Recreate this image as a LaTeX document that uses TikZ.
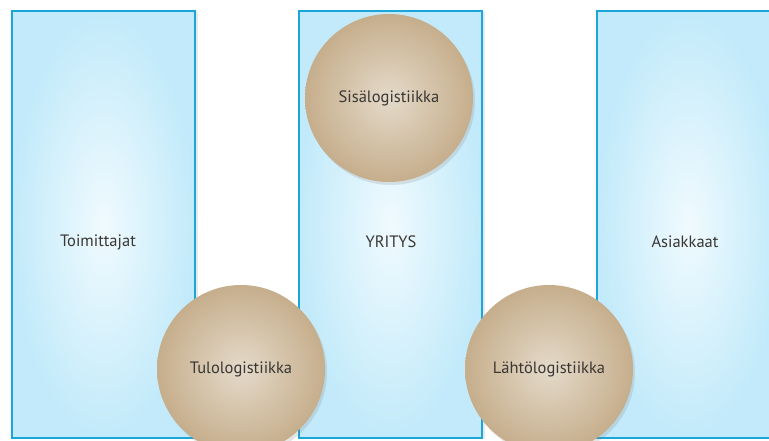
\documentclass[tikz,border=0pt]{standalone}
\usepackage{fontspec}
\setmainfont{PT Sans}
\usetikzlibrary{shadows}
\definecolor{boxedge}{HTML}{1BA6D9}
\definecolor{boxout}{HTML}{C2EAFA}
\definecolor{boxin}{HTML}{F0FAFE}
\definecolor{ballout}{HTML}{C6AE8C}
\definecolor{ballin}{HTML}{E4DACA}
\definecolor{txt}{HTML}{3A3632}
\tikzset{
  column/.style={draw=boxedge, line width=2.5pt, inner color=boxin, outer color=boxout,
    minimum width=183pt, minimum height=427pt, inner sep=0pt,
    drop shadow={opacity=0.18, shadow xshift=3pt, shadow yshift=-1pt}},
  ball/.style={circle, inner color=ballin, outer color=ballout, minimum size=168pt, inner sep=0pt,
    drop shadow={opacity=0.2, shadow xshift=2pt, shadow yshift=-3pt},
    text=txt, font=\fontsize{16.5}{19}\selectfont},
  lbl/.style={text=txt, font=\fontsize{16.5}{19}\selectfont}
}
\begin{document}
\begin{tikzpicture}[x=1pt,y=-1pt]
\useasboundingbox (0,0) rectangle (769,441);
\fill[white] (0,0) rectangle (769,441);
\begin{scope}
\clip (0,0) rectangle (769,441);
\node[column] (toim) at (103.5,224.5) {};
\node[column] (yri) at (390.5,224.5) {};
\node[column] (asi) at (688.5,224.5) {};
\node[lbl] (toimt) at (98,242) {Toimittajat};
\node[lbl] (yrit) at (391,242) {YRITYS};
\node[lbl] (asit) at (685,242) {Asiakkaat};
\node[ball] (sis) at (389,98) {Sisälogistiikka};
\node[ball] (tulo) at (241,369) {Tulologistiikka};
\node[ball] (lahto) at (549,369) {Lähtölogistiikka};
\end{scope}
\end{tikzpicture}
\end{document}
